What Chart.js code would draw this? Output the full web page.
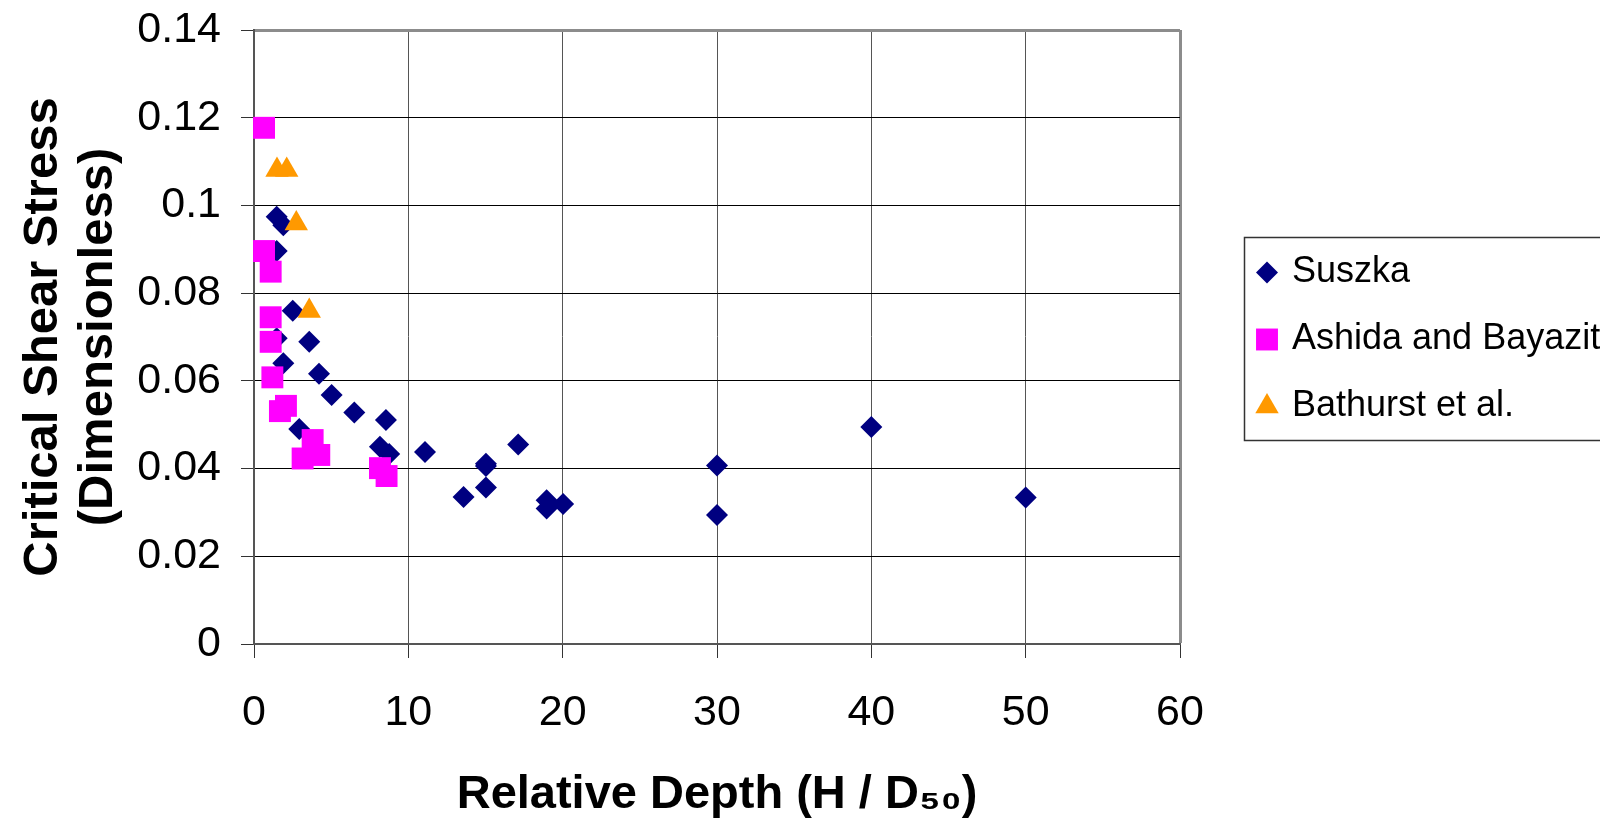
<!DOCTYPE html>
<html>
<head>
<meta charset="utf-8">
<title>Critical Shear Stress vs Relative Depth</title>
<script src="https://cdn.jsdelivr.net/npm/chart.js@4/dist/chart.umd.min.js"></script>
<style>
  html, body { margin: 0; padding: 0; background: #fff; }
  #wrap { width: 1600px; height: 827px; }
</style>
</head>
<body>
<div id="wrap"><canvas id="shearChart" width="1600" height="827"></canvas></div>
<script>
// Values
const suszkaX = [1.47, 1.9, 1.47, 2.51, 1.47, 3.58, 1.9, 4.21, 5.03, 6.5, 8.55, 2.93, 8.16, 8.76, 11.08,
                 15.03, 15.03, 15.03, 13.58, 17.12, 18.96, 18.96, 20.03, 30, 30, 40, 50];
const suszkaY = [0.0974, 0.0955, 0.0896, 0.076, 0.0697, 0.0689, 0.064, 0.0616, 0.0568, 0.0528, 0.0511, 0.049, 0.045, 0.0433, 0.0438,
                 0.0411, 0.0406, 0.0357, 0.0335, 0.0455, 0.0328, 0.0309, 0.0319, 0.0407, 0.0294, 0.0495, 0.0334];

const ashidaX = [0.65, 0.65, 1.08, 1.08, 1.08, 1.19, 2.07, 1.68, 3.8, 3.15, 4.23, 8.16, 8.59];
const ashidaY = [0.1177, 0.0896, 0.0849, 0.0745, 0.0689, 0.0608, 0.0543, 0.0531, 0.0465, 0.0423, 0.0431, 0.0401, 0.0383];

const bathurstX = [1.49, 2.12, 2.74, 3.58];
const bathurstY = [0.1081, 0.1081, 0.0959, 0.0759];

const seriesNames = ['Suszka', 'Ashida and Bayazit', 'Bathurst et al.'];
const xTickLabels = ['0', '10', '20', '30', '40', '50', '60'];
const yTickLabels = ['0', '0.02', '0.04', '0.06', '0.08', '0.1', '0.12', '0.14'];

const FONT = "'Liberation Sans', Arial, Helvetica, sans-serif";

function toPoints(xs, ys) {
    return xs.map((x, i) => ({ x: x, y: ys[i] }));
}

// Excel-style legend: boxed, to the right of the plot
const legendBox = {
    id: 'legendBox',
    afterDraw(chart) {
        const ctx = chart.ctx;
        ctx.save();
        ctx.strokeStyle = '#333';
        ctx.lineWidth = 1.5;
        ctx.strokeRect(1244.5, 237.5, 420, 203);
        chart.data.datasets.forEach((ds, i) => {
            const y = 272.5 + i * 67;
            ctx.fillStyle = ds.backgroundColor;
            Chart.helpers.drawPoint(ctx, {
                pointStyle: ds.pointStyle,
                radius: ds.pointRadius,
                rotation: 0,
                borderWidth: 0
            }, 1267, y);
            ctx.fillStyle = '#000';
            ctx.font = '36px ' + FONT;
            ctx.textBaseline = 'middle';
            ctx.textAlign = 'left';
            ctx.fillText(ds.label, 1292, y);
        });
        ctx.restore();
    }
};

const ctx = document.getElementById('shearChart').getContext('2d');

new Chart(ctx, {
    type: 'scatter',
    data: {
        datasets: [{
            label: seriesNames[0],
            data: toPoints(suszkaX, suszkaY),
            pointStyle: 'rectRot',
            pointRadius: 11,
            pointHoverRadius: 11,
            backgroundColor: '#000080',
            borderColor: '#000080',
            pointBorderWidth: 0,
            clip: false,
            order: 3
        }, {
            label: seriesNames[1],
            data: toPoints(ashidaX, ashidaY),
            pointStyle: 'rect',
            pointRadius: 15.5,
            pointHoverRadius: 15.5,
            backgroundColor: '#FF00FF',
            borderColor: '#FF00FF',
            pointBorderWidth: 0,
            clip: false,
            order: 2
        }, {
            label: seriesNames[2],
            data: toPoints(bathurstX, bathurstY),
            pointStyle: 'triangle',
            pointRadius: 13.5,
            pointHoverRadius: 13.5,
            backgroundColor: '#FF9900',
            borderColor: '#FF9900',
            pointBorderWidth: 0,
            clip: false,
            order: 1
        }]
    },
    options: {
        responsive: false,
        animation: false,
        layout: {
            padding: { top: 30, right: 420, left: 0, bottom: 0 }
        },
        plugins: {
            legend: { display: false },
            tooltip: { enabled: false }
        },
        scales: {
            x: {
                type: 'linear',
                min: 0,
                max: 60,
                afterFit: function(scale) {
                    scale.height = 183;
                    scale.paddingLeft = 0;
                    scale.paddingRight = 0;
                },
                ticks: {
                    stepSize: 10,
                    padding: 29,
                    color: '#000',
                    font: { size: 43, family: FONT },
                    callback: function(value, index) { return xTickLabels[index]; }
                },
                grid: {
                    color: function(c) { return c.index === xTickLabels.length - 1 ? '#8c8c8c' : '#555'; },
                    lineWidth: function(c) { return c.index === xTickLabels.length - 1 ? 3 : 1; },
                    tickLength: 14,
                    tickColor: '#333',
                    tickWidth: 1
                },
                border: { display: true, color: '#555', width: 2 },
                title: {
                    display: true,
                    text: 'Relative Depth (H / D\u2085\u2080)',
                    color: '#000',
                    font: { size: 47, weight: 'bold', family: FONT },
                    padding: { top: 0, bottom: 4 }
                }
            },
            y: {
                type: 'linear',
                min: 0,
                max: 0.14,
                afterFit: function(scale) {
                    scale.width = 254;
                    scale.paddingTop = 0;
                    scale.paddingBottom = 0;
                },
                ticks: {
                    stepSize: 0.02,
                    padding: 20,
                    color: '#000',
                    font: { size: 43, family: FONT },
                    callback: function(value, index) { return yTickLabels[index]; }
                },
                grid: {
                    color: function(c) { return c.index === yTickLabels.length - 1 ? '#8c8c8c' : '#000'; },
                    lineWidth: function(c) { return c.index === yTickLabels.length - 1 ? 3 : 1; },
                    tickLength: 13,
                    tickColor: '#333',
                    tickWidth: 1
                },
                border: { display: true, color: '#555', width: 2 },
                title: {
                    display: true,
                    text: ['Critical Shear Stress', '(Dimensionless)'],
                    color: '#000',
                    font: { size: 49, weight: 'bold', family: FONT, lineHeight: 1.12 },
                    padding: { top: 16, bottom: 0 }
                }
            }
        }
    },
    plugins: [legendBox]
});
</script>
</body>
</html>
